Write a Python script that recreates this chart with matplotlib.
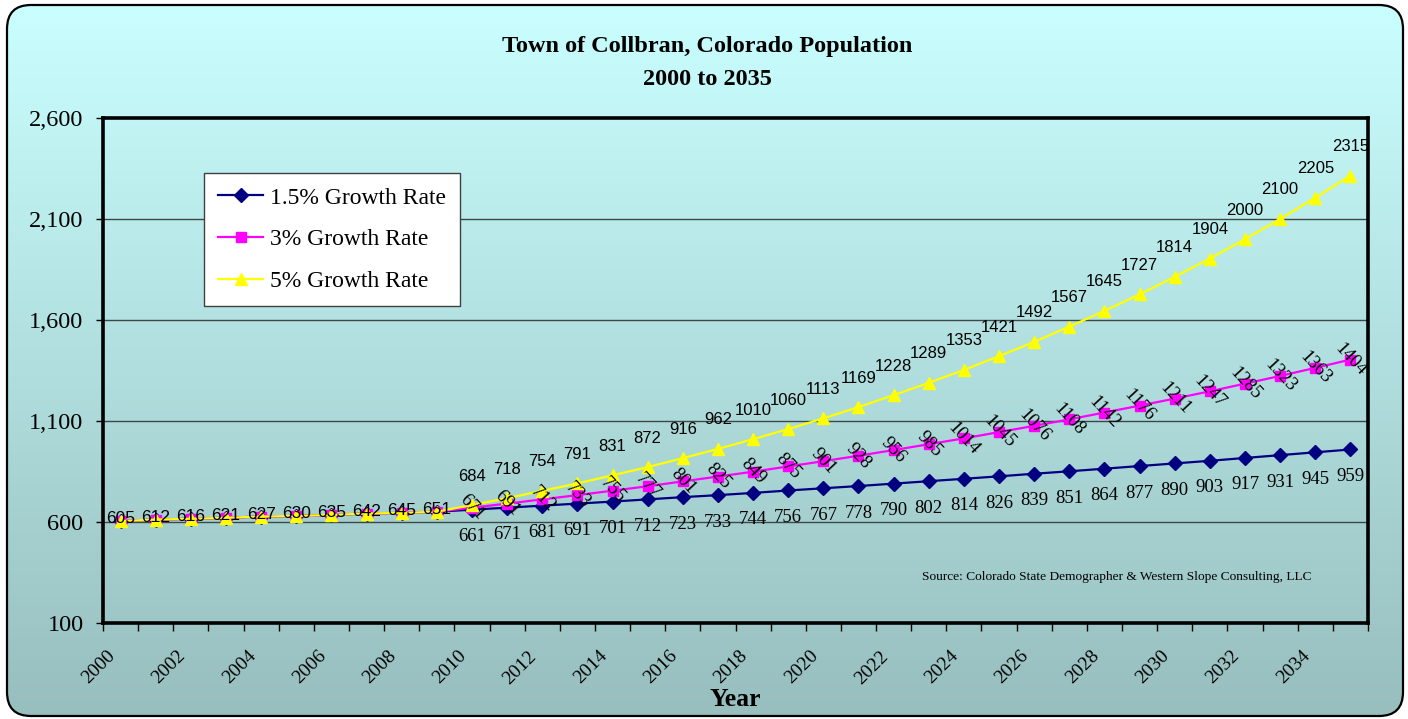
import numpy as np
import matplotlib
matplotlib.use("Agg")
import matplotlib.pyplot as plt
from matplotlib.patches import FancyBboxPatch
from matplotlib.transforms import ScaledTranslation

# ---------------- data ----------------
years = list(range(2000, 2036))
base_2000_2009 = [605, 612, 616, 621, 627, 630, 635, 642, 645, 651]
growth_15 = [661, 671, 681, 691, 701, 712, 723, 733, 744, 756, 767, 778, 790,
             802, 814, 826, 839, 851, 864, 877, 890, 903, 917, 931, 945, 959]
growth_3 = [671, 691, 712, 733, 755, 777, 801, 825, 849, 875, 901, 928, 956,
            985, 1014, 1045, 1076, 1108, 1142, 1176, 1211, 1247, 1285, 1323, 1363, 1404]
growth_5 = [684, 718, 754, 791, 831, 872, 916, 962, 1010, 1060, 1113, 1169, 1228,
            1289, 1353, 1421, 1492, 1567, 1645, 1727, 1814, 1904, 2000, 2100, 2205, 2315]
series_names = ["1.5% Growth Rate", "3% Growth Rate", "5% Growth Rate"]
y_ticks = [100, 600, 1100, 1600, 2100, 2600]
title_lines = ["Town of Collbran, Colorado Population", "2000 to 2035"]
source = "Source: Colorado State Demographer & Western Slope Consulting, LLC"

s15 = base_2000_2009 + growth_15
s3 = base_2000_2009 + growth_3
s5 = base_2000_2009 + growth_5

SERIF = "Liberation Serif"
SANS = "Liberation Sans"

W, H = 1408, 719
fig = plt.figure(figsize=(W / 100, H / 100), dpi=100)
fig.patch.set_facecolor("white")

# ---------------- background gradient with rounded border ----------------
bg = fig.add_axes([0, 0, 1, 1], zorder=-10)
bg.set_xlim(0, W)
bg.set_ylim(H, 0)
bg.axis("off")
top = np.array([202, 255, 255]) / 255
bot = np.array([152, 190, 190]) / 255
t = np.linspace(0, 1, 256)[:, None]
grad = (top[None, :] * (1 - t) + bot[None, :] * t)[:, None, :]
im = bg.imshow(grad, extent=[7, 1403, 716, 5], aspect="auto", interpolation="bilinear")
box = FancyBboxPatch((7, 5), 1396, 711, boxstyle="round,pad=0,rounding_size=24",
                     facecolor="none", edgecolor="black", linewidth=1.6,
                     transform=bg.transData)
bg.add_patch(box)
im.set_clip_path(box)

# ---------------- main axes ----------------
L, T, R, B = 103, 118, 1368, 623
ax = fig.add_axes([L / W, 1 - B / H, (R - L) / W, (B - T) / H])
ax.patch.set_alpha(0)

ax.set_xlim(years[0] - 0.5, years[-1] + 0.5)
ax.set_ylim(y_ticks[0], y_ticks[-1])

for yv in y_ticks[1:-1]:
    ax.axhline(yv, color="#3c4848", linewidth=1.0, zorder=1)

ax.plot(years, s15, color="#000080", marker="D", markersize=7, linewidth=1.6,
        label=series_names[0], zorder=3)
ax.plot(years, s3, color="#FF00FF", marker="s", markersize=7, linewidth=1.6,
        label=series_names[1], zorder=4)
ax.plot(years, s5, color="#FFFF00", marker="^", markersize=9, linewidth=1.6,
        label=series_names[2], zorder=5)

# data labels
for i, y in enumerate(years):
    if i < len(base_2000_2009):
        ax.annotate(str(s5[i]), (y, s5[i]), xytext=(0, 2), textcoords="offset pixels",
                    ha="center", va="center", fontsize=12.5, family=SANS, zorder=6)
    else:
        ax.annotate(str(s15[i]), (y, s15[i]), xytext=(0, -27), textcoords="offset pixels",
                    ha="center", va="center", fontsize=13.5, family=SERIF, zorder=6)
        ax.annotate(str(s3[i]), (y, s3[i]), xytext=(0, 0), textcoords="offset pixels",
                    ha="center", va="center", fontsize=13.5, family=SERIF, rotation=-47,
                    zorder=6)
        ax.annotate(str(s5[i]), (y, s5[i]), xytext=(0, 29), textcoords="offset pixels",
                    ha="center", va="center", fontsize=12, family=SANS, zorder=6)

# axes styling
for sp in ax.spines.values():
    sp.set_linewidth(2.6)
    sp.set_color("black")

ax.set_yticks(y_ticks)
ax.set_yticklabels([f"{v:,}" for v in y_ticks], fontsize=17.5, family=SERIF)
ax.tick_params(axis="y", direction="out", length=5, width=1, pad=9)

ax.set_xticks([y for y in years if y % 2 == 0])
ax.set_xticklabels([str(y) for y in years if y % 2 == 0], fontsize=14, family=SERIF,
                   rotation=45, ha="right", rotation_mode="anchor")
ax.set_xticks(np.arange(years[0] - 0.5, years[-1] + 1.0, 1.0), minor=True)
ax.tick_params(axis="x", which="major", length=0, pad=22)
ax.tick_params(axis="x", which="minor", direction="out", length=6, width=1)
shift = ScaledTranslation(-8 / 100, 0, fig.dpi_scale_trans)
for lab in ax.get_xticklabels():
    lab.set_va("center")
    lab.set_transform(lab.get_transform() + shift)

fig.text(735 / W, 1 - 700 / H, "Year", ha="center", va="center", fontsize=18.5,
         family=SERIF, fontweight="bold")
fig.text(707 / W, 1 - 52 / H, title_lines[0], ha="center", va="baseline", fontsize=17.5,
         family=SERIF, fontweight="bold")
fig.text(707 / W, 1 - 85 / H, title_lines[1], ha="center", va="baseline", fontsize=17.5,
         family=SERIF, fontweight="bold")
fig.text(922 / W, 1 - 577 / H, source, ha="left", va="center", fontsize=9.6,
         family=SERIF)

leg = ax.legend(loc="upper left", bbox_to_anchor=(204 / W, 1 - 173 / H),
                bbox_transform=fig.transFigure, prop={"family": SERIF, "size": 17},
                frameon=True, fancybox=False, framealpha=1, edgecolor="#404040",
                handlelength=1.9, handletextpad=0.3, borderpad=0.6, labelspacing=0.85,
                borderaxespad=0)
leg.get_frame().set_linewidth(1.0)
leg.set_zorder(10)

fig.savefig("out.png", dpi=100)
